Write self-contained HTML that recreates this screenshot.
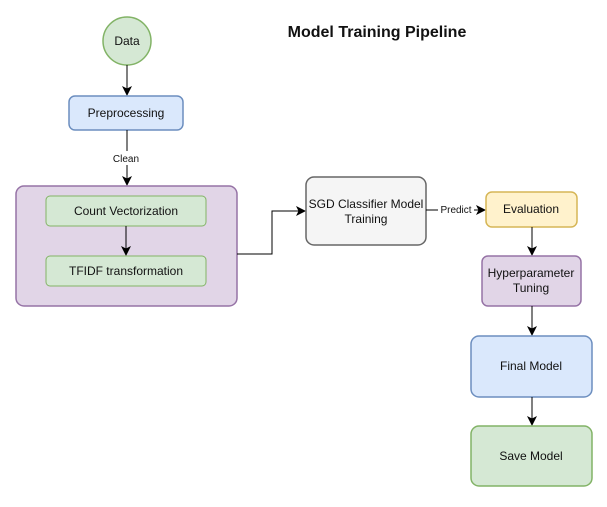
<!DOCTYPE html>
<html><head><meta charset="utf-8"><style>
body{margin:0;background:#fff;width:607px;height:502px;overflow:hidden}
svg text{font-family:"Liberation Sans",Helvetica,Arial,sans-serif;font-size:12px;fill:#111}
</style></head><body>
<svg width="607" height="502" viewBox="0 0 607 502" xmlns="http://www.w3.org/2000/svg">
<defs><marker id="a" markerWidth="10" markerHeight="10" refX="9" refY="5" orient="auto" markerUnits="userSpaceOnUse"><path d="M0,0 L10,5 L0,10 L2.5,5 Z" fill="#000"/></marker></defs>
<text x="377" y="37" text-anchor="middle" style="font-size:16px;font-weight:bold">Model Training Pipeline</text>
<circle cx="127" cy="41" r="24" fill="#d5e8d4" stroke="#82b366" stroke-width="1.5"/>
<text x="127" y="45" text-anchor="middle">Data</text>
<line x1="127" y1="65" x2="127" y2="95" stroke="#000" marker-end="url(#a)"/>
<rect x="69" y="96" width="114" height="34" rx="6" fill="#dae8fc" stroke="#6c8ebf" stroke-width="1.5"/>
<text x="126" y="117" text-anchor="middle">Preprocessing</text>
<line x1="127" y1="130" x2="127" y2="185" stroke="#000" marker-end="url(#a)"/>
<rect x="105" y="151" width="44" height="14" fill="#fff"/>
<text x="126" y="162" text-anchor="middle" style="font-size:10px">Clean</text>
<rect x="16" y="186" width="221" height="120" rx="8" fill="#e1d5e7" stroke="#9673a6" stroke-width="1.5"/>
<rect x="46" y="196" width="160" height="30" rx="4" fill="#d5e8d4" stroke="#82b366"/>
<text x="126" y="215" text-anchor="middle">Count Vectorization</text>
<line x1="126" y1="226" x2="126" y2="255" stroke="#000" marker-end="url(#a)"/>
<rect x="46" y="256" width="160" height="30" rx="4" fill="#d5e8d4" stroke="#82b366"/>
<text x="126" y="275" text-anchor="middle">TFIDF transformation</text>
<polyline points="237,254 272,254 272,211 305,211" fill="none" stroke="#000" marker-end="url(#a)"/>
<rect x="306" y="177" width="120" height="68" rx="8" fill="#f5f5f5" stroke="#666" stroke-width="1.5"/>
<text x="366" y="208" text-anchor="middle">SGD Classifier Model</text>
<text x="366" y="223" text-anchor="middle">Training</text>
<line x1="426" y1="210" x2="485" y2="210" stroke="#000" marker-end="url(#a)"/>
<rect x="438" y="203" width="36" height="13" fill="#fff"/>
<text x="456" y="213" text-anchor="middle" style="font-size:10px">Predict</text>
<rect x="486" y="192" width="91" height="35" rx="6" fill="#fff2cc" stroke="#d6b656" stroke-width="1.5"/>
<text x="531" y="213" text-anchor="middle">Evaluation</text>
<line x1="532" y1="227" x2="532" y2="255" stroke="#000" marker-end="url(#a)"/>
<rect x="482" y="256" width="99" height="50" rx="6" fill="#e1d5e7" stroke="#9673a6" stroke-width="1.5"/>
<text x="531" y="277" text-anchor="middle">Hyperparameter</text>
<text x="531" y="292" text-anchor="middle">Tuning</text>
<line x1="532" y1="306" x2="532" y2="335" stroke="#000" marker-end="url(#a)"/>
<rect x="471" y="336" width="121" height="61" rx="8" fill="#dae8fc" stroke="#6c8ebf" stroke-width="1.5"/>
<text x="531" y="370" text-anchor="middle">Final Model</text>
<line x1="532" y1="397" x2="532" y2="425" stroke="#000" marker-end="url(#a)"/>
<rect x="471" y="426" width="121" height="60" rx="8" fill="#d5e8d4" stroke="#82b366" stroke-width="1.5"/>
<text x="531" y="460" text-anchor="middle">Save Model</text>
</svg>
</body></html>
